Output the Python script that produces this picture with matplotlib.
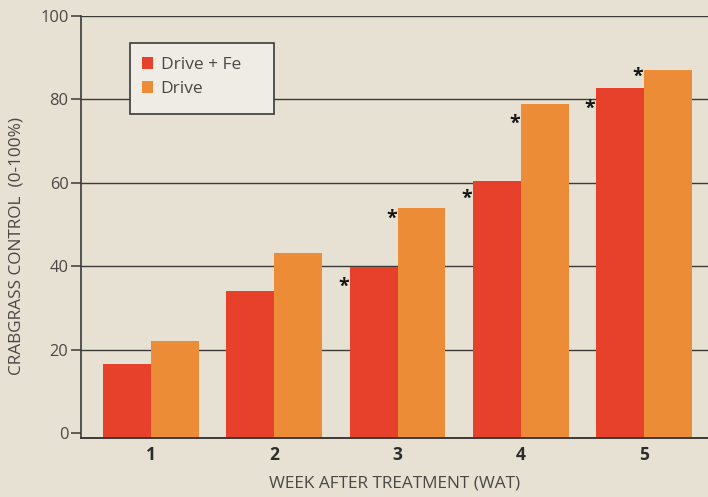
import matplotlib
matplotlib.use("Agg")
import matplotlib.pyplot as plt
from matplotlib.patches import Rectangle
import numpy as np

plt.rcParams['font.family'] = ['Open Sans', 'DejaVu Sans']

weeks = [1, 2, 3, 4, 5]
week_labels = ["1", "2", "3", "4", "5"]
series_names = ["Drive + Fe", "Drive"]
drive_fe = [16.6, 34.2, 39.9, 60.4, 82.8]
drive = [22.2, 43.3, 53.9, 78.8, 87.0]
# significance asterisks: (week, series index, y position)
star_weeks = [3, 3, 4, 4, 5, 5]
star_series = [0, 1, 0, 1, 0, 1]
star_y = [35.0, 51.5, 56.1, 74.1, 77.8, 85.4]

y_ticks = [0, 20, 40, 60, 80, 100]

bg = "#e6e1d3"
red = "#e8412b"
orange = "#ed8c36"
text_col = "#4a4745"
line_col = "#3b3a38"

W, H = 708, 497
fig = plt.figure(figsize=(W / 100, H / 100), dpi=100, facecolor=bg)
ax = fig.add_axes([81 / W, (H - 438) / H, (W - 81) / W, (438 - 16) / H])
ax.set_facecolor(bg)

ymin = -1.1
ax.set_ylim(ymin, 100)
ax.set_xlim(0.432, 5.519)

x = np.array(weeks, dtype=float)
bw = 0.389
vals = [drive_fe, drive]
cols = [red, orange]
offs = [-bw / 2, bw / 2]
for v, c, o, name in zip(vals, cols, offs, series_names):
    ax.bar(x + o, np.array(v) - ymin, bottom=ymin, width=bw, color=c,
           edgecolor='none', zorder=3, label=name)

for wk, s, yy in zip(star_weeks, star_series, star_y):
    xl = wk + offs[s] - bw / 2 - 0.05
    ax.text(xl, yy, "*", ha='center', va='center', fontsize=14,
            fontweight='bold', color='#141414', zorder=4)

# grid
for t in y_ticks[1:]:
    ax.axhline(t, color=line_col, lw=1.0, zorder=1)

for sp in ['top', 'right']:
    ax.spines[sp].set_visible(False)
ax.spines['left'].set_color(line_col)
ax.spines['left'].set_linewidth(1.2)
ax.spines['bottom'].set_color(line_col)
ax.spines['bottom'].set_linewidth(1.4)
ax.spines['bottom'].set_zorder(5)

ax.set_yticks(y_ticks)
ax.set_yticklabels([str(t) for t in y_ticks], fontsize=11.8, color=text_col)
ax.tick_params(axis='y', length=7, width=1.1, color=line_col, pad=2)
ax.set_xticks(x)
ax.set_xticklabels(week_labels, fontsize=12.5, fontweight='bold', color='#2e2c2a')
ax.tick_params(axis='x', length=0, pad=6)

ax.set_xlabel("WEEK AFTER TREATMENT (WAT)", fontsize=12.4, color=text_col, labelpad=8)
fig.text(17 / W, (H - 246) / H, "CRABGRASS CONTROL  (0-100%)", rotation=90,
         ha='center', va='center', fontsize=12.4, color=text_col)

# legend box
ax0 = 81
aw = W - 81
ah = 438 - 16
rect = Rectangle(((130 - ax0) / aw, 1 - (114 - 16) / ah), 144 / aw, 71 / ah,
                 transform=ax.transAxes, facecolor="#efece6", edgecolor=line_col,
                 lw=1.2, zorder=6)
ax.add_patch(rect)
leg = ax.legend(loc='upper left', bbox_to_anchor=((142 - ax0) / aw, 1 - (57 - 16) / ah),
                frameon=False, fontsize=12.5, handlelength=0.63, handleheight=0.63,
                handletextpad=0.45, labelspacing=0.47, borderpad=0, borderaxespad=0)
leg.set_zorder(7)
for t in leg.get_texts():
    t.set_color(text_col)

fig.savefig("out.png", dpi=100, facecolor=bg)
